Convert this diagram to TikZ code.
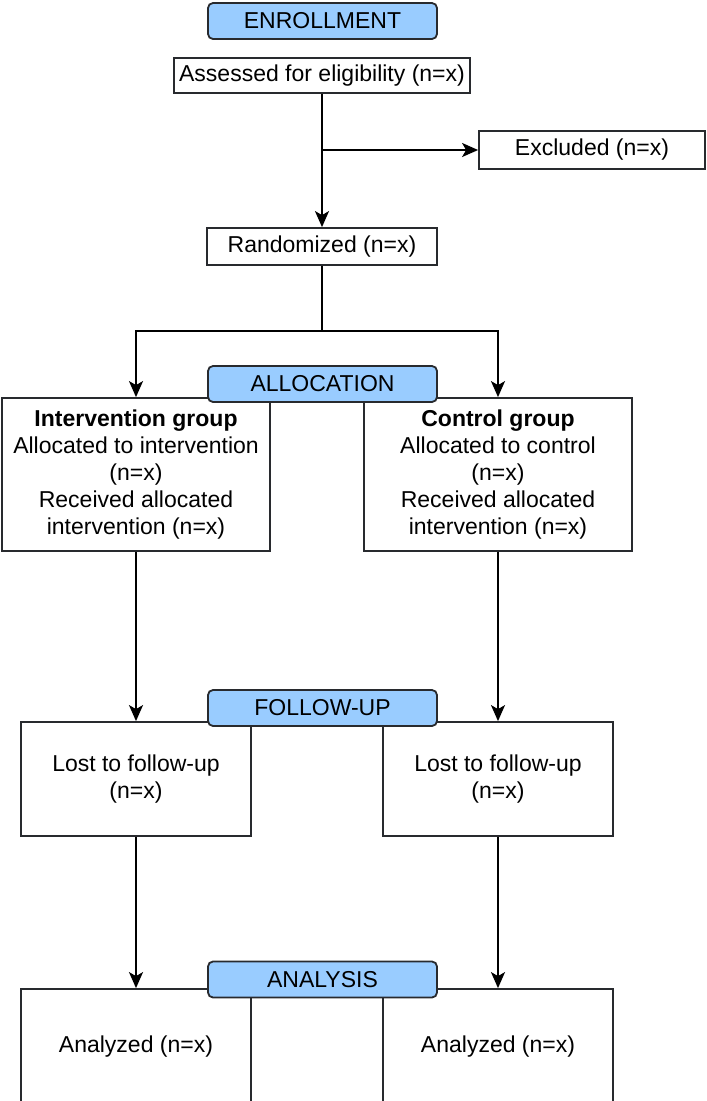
\documentclass[tikz,border=0pt]{standalone}
\usepackage{fontspec}
\setmainfont{Liberation Sans}
\usetikzlibrary{arrows.meta}
\definecolor{phaseblue}{RGB}{153,204,255}
\definecolor{edgegray}{RGB}{40,42,46}

\begin{document}
\begin{tikzpicture}[x=1pt, y=-1pt,
  every node/.style={font=\fontsize{23}{27}\selectfont, inner sep=0pt},
  box/.style={draw=edgegray, line width=1.8pt, fill=white, align=center},
  phase/.style={draw=edgegray, line width=1.8pt, fill=phaseblue, rounded corners=5pt,
    minimum width=229, minimum height=36},
  arr/.style={draw=black, line width=1.9pt, -{Stealth[length=16pt,width=14pt,inset=4pt]}}]
  \clip (0,0) rectangle (707,1101);

  % boxes
  \node[box, minimum width=296, minimum height=35] (assess) at (322,75.5) {Assessed for eligibility (n=x)};
  \node[box, minimum width=226, minimum height=38] (excl)   at (592,150) {Excluded (n=x)};
  \node[box, minimum width=230, minimum height=37] (rand)   at (322,246.5) {Randomized (n=x)};
  \node[box, minimum width=268, minimum height=153] (interv) at (136,474.5)
    {\textbf{Intervention group}\\Allocated to intervention\\(n=x)\\Received allocated\\intervention (n=x)};
  \node[box, minimum width=268, minimum height=153] (ctrl)   at (498,474.5)
    {\textbf{Control group}\\Allocated to control\\(n=x)\\Received allocated\\intervention (n=x)};
  \node[box, minimum width=230, minimum height=114] (lostL) at (136,779) {Lost to follow-up\\(n=x)};
  \node[box, minimum width=230, minimum height=114] (lostR) at (498,779) {Lost to follow-up\\(n=x)};
  \node[box, minimum width=230, minimum height=116] (anaL)  at (136,1047) {Analyzed (n=x)};
  \node[box, minimum width=230, minimum height=116] (anaR)  at (498,1047) {Analyzed (n=x)};

  % phase labels
  \node[phase] (enroll)   at (322.5,21)    {ENROLLMENT};
  \node[phase] (alloc)    at (322.5,384)   {ALLOCATION};
  \node[phase] (follow)   at (322.5,708)   {FOLLOW-UP};
  \node[phase] (analysis) at (322.5,979.5) {ANALYSIS};

  % connectors
  \coordinate (br) at (assess.south |- excl.west);
  \coordinate (split) at (322,331);
  \draw[arr] (assess.south) -- (assess.south |- rand.north);
  \draw[arr] (br) -- (excl.west);
  \draw[arr] (rand.south) -- (split) -| (interv.north);
  \draw[arr] (split) -| (ctrl.north);
  \draw[arr] (interv.south) -- (lostL.north);
  \draw[arr] (ctrl.south) -- (lostR.north);
  \draw[arr] (lostL.south) -- (anaL.north);
  \draw[arr] (lostR.south) -- (anaR.north);
\end{tikzpicture}
\end{document}
